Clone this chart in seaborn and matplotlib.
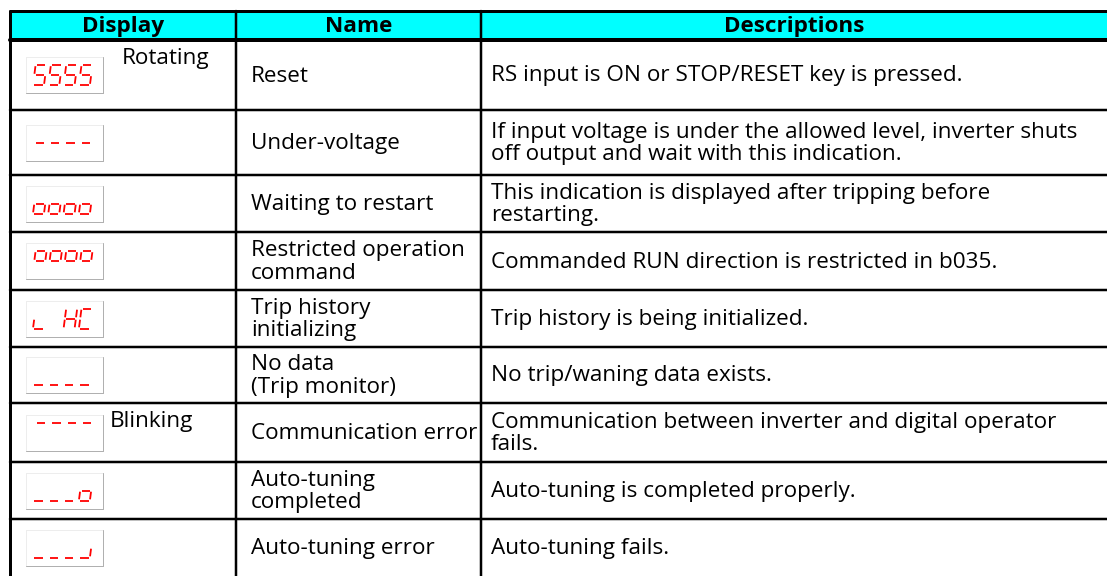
import matplotlib
matplotlib.use("Agg")
import matplotlib.pyplot as plt
from matplotlib.patches import Rectangle
import seaborn as sns

# table content
headers = ["Display", "Name", "Descriptions"]
displays = ["5555", "----", "oooo", "^^^^", "L HC", "____", "~~~~", "___o", "___j"]
display_notes = ["Rotating", "", "", "", "", "", "Blinking", "", ""]
names = [
    "Reset",
    "Under-voltage",
    "Waiting to restart",
    "Restricted operation\ncommand",
    "Trip history\ninitializing",
    "No data\n(Trip monitor)",
    "Communication error",
    "Auto-tuning\ncompleted",
    "Auto-tuning error",
]
descriptions = [
    "RS input is ON or STOP/RESET key is pressed.",
    "If input voltage is under the allowed level, inverter shuts\noff output and wait with this indication.",
    "This indication is displayed after tripping before\nrestarting.",
    "Commanded RUN direction is restricted in b035.",
    "Trip history is being initialized.",
    "No trip/waning data exists.",
    "Communication between inverter and digital operator\nfails.",
    "Auto-tuning is completed properly.",
    "Auto-tuning fails.",
]

# seven segment glyphs (unit box, y up)
SEGMENTS = {
    "a": ((0.12, 1.0), (0.88, 1.0)),
    "b": ((1.0, 0.56), (1.0, 0.94)),
    "c": ((1.0, 0.06), (1.0, 0.44)),
    "d": ((0.12, 0.0), (0.88, 0.0)),
    "e": ((0.0, 0.06), (0.0, 0.44)),
    "f": ((0.0, 0.56), (0.0, 0.94)),
    "g": ((0.12, 0.5), (0.88, 0.5)),
}
CHAR_SEGMENTS = {"5": "afgcd", "-": "g", "_": "d", "~": "a", "o": "cdeg",
                 "^": "abfg", "L": "de", "H": "bcefg", "C": "adef", "j": "cd", " ": ""}

W, H = 1107, 576
col_edges = [10, 236, 481, W + 5]
row_edges = [11, 40, 110, 175, 232, 290, 347, 403, 462, 519, H]
note_x = {0: 122, 6: 110}
px = 0.72  # points per pixel at 100 dpi

sns.set_style("white")
plt.rcParams["font.family"] = ["Open Sans", "DejaVu Sans"]
plt.rcParams["text.color"] = "black"
FS = 16.2

fig = plt.figure(figsize=(W / 100, H / 100), dpi=100)
ax = fig.add_axes([0, 0, 1, 1])
ax.set_xlim(0, W)
ax.set_ylim(H, 0)
ax.axis("off")

# header
ax.add_patch(Rectangle((col_edges[0], row_edges[0]), col_edges[-1] - col_edges[0],
                       row_edges[1] - row_edges[0], color="#00ffff", zorder=0))
for i, h in enumerate(headers):
    ax.text((col_edges[i] + col_edges[i + 1] - (5 if i == 2 else 0)) / 2,
            (row_edges[0] + row_edges[1]) / 2 + 1, h,
            ha="center", va="center", fontsize=FS, fontweight="bold")


def draw_led(x0, cy, code):
    bw, bh = 77, 36
    top, bot = cy - bh / 2, cy + bh / 2
    ax.plot([x0, x0 + bw], [top, top], color="#ededed", lw=px, zorder=2)
    ax.plot([x0, x0], [top, bot], color="#ededed", lw=px, zorder=2)
    ax.plot([x0, x0 + bw], [bot, bot], color="#b0b0b0", lw=px, zorder=2)
    ax.plot([x0 + bw, x0 + bw], [top, bot], color="#b0b0b0", lw=px, zorder=2)
    gw, gh, skew, pitch = 11, 20, 0.13, 15.3
    base = cy + gh / 2
    for k, ch in enumerate(code):
        gx = x0 + 7 + k * pitch
        for s in CHAR_SEGMENTS.get(ch, ""):
            (ux1, uy1), (ux2, uy2) = SEGMENTS[s]
            xs = [gx + ux1 * gw + uy1 * gh * skew, gx + ux2 * gw + uy2 * gh * skew]
            ys = [base - uy1 * gh, base - uy2 * gh]
            ax.plot(xs, ys, color="#ff0000", lw=1.8 * px, solid_capstyle="butt", zorder=3)


for r in range(len(names)):
    y0, y1 = row_edges[r + 1], row_edges[r + 2]
    cy = (y0 + y1) / 2
    draw_led(26, cy, displays[r])
    if display_notes[r]:
        ax.text(note_x[r], y0 + 18.5, display_notes[r], ha="left", va="center", fontsize=FS)
    ax.text(col_edges[1] + 15, cy + 1, names[r], ha="left", va="center", fontsize=FS,
            linespacing=1.08)
    ax.text(col_edges[2] + 10, cy + 1, descriptions[r], ha="left", va="center", fontsize=FS,
            linespacing=1.08)

# grid lines
ax.plot([col_edges[0], col_edges[-1]], [row_edges[0], row_edges[0]], color="black", lw=3 * px)
ax.plot([col_edges[0], col_edges[-1]], [row_edges[1], row_edges[1]], color="black", lw=4 * px)
for y in row_edges[2:-1]:
    ax.plot([col_edges[0], col_edges[-1]], [y, y], color="black", lw=2.5 * px)
ax.plot([col_edges[0], col_edges[0]], [row_edges[0], H + 5], color="black", lw=3 * px)
for x in col_edges[1:3]:
    ax.plot([x, x], [row_edges[0], H + 5], color="black", lw=2.5 * px)

fig.savefig("out.png", dpi=100)
